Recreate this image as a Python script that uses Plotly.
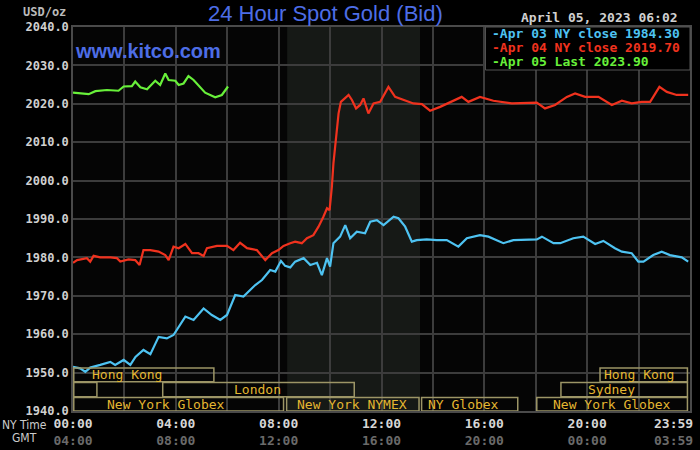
import plotly.graph_objects as go

# hours since NY midnight and bid prices
apr03_hours = [0.00, 0.28, 0.48, 0.67, 1.06, 1.45, 1.64, 1.97, 2.23, 2.43, 2.74, 3.01, 3.33, 3.65,
               3.91, 4.37, 4.69, 5.08, 5.40, 5.73, 5.99, 6.31, 6.63, 7.09, 7.35, 7.67, 7.87, 8.09,
               8.25, 8.45, 8.64, 8.97, 9.23, 9.49, 9.68, 9.88, 10.00, 10.13, 10.39, 10.59, 10.78,
               11.04, 11.36, 11.56, 11.82, 12.08, 12.47, 12.66, 12.92, 13.18, 13.37, 13.76, 14.15,
               14.54, 14.99, 15.32, 15.83, 16.16, 16.74, 17.13, 18.04, 18.24, 18.69, 18.95, 19.46,
               19.85, 20.31, 20.63, 21.08, 21.35, 21.73, 21.99, 22.19, 22.57, 22.90, 23.22, 23.68,
               23.93]
apr03_price = [1951.5, 1951.1, 1950.2, 1951.3, 1952.0, 1952.8, 1952.0, 1953.3, 1952.0, 1954.1,
               1955.9, 1954.8, 1959.3, 1958.9, 1959.8, 1964.6, 1963.7, 1966.7, 1965.0, 1963.7,
               1965.0, 1970.2, 1969.8, 1972.8, 1974.1, 1976.7, 1976.3, 1979.1, 1977.8, 1977.4,
               1978.9, 1979.8, 1978.0, 1978.6, 1975.4, 1979.8, 1977.6, 1983.7, 1985.4, 1988.4,
               1985.0, 1986.7, 1986.3, 1989.3, 1989.7, 1988.4, 1990.6, 1990.2, 1988.0, 1984.1,
               1984.5, 1984.7, 1984.5, 1984.5, 1982.8, 1985.0, 1985.8, 1985.4, 1983.7, 1984.5,
               1984.7, 1985.4, 1983.7, 1983.7, 1985.0, 1985.4, 1983.5, 1984.3, 1982.4, 1981.5,
               1981.1, 1978.9, 1978.9, 1980.6, 1981.5, 1980.6, 1980.0, 1978.9]

apr04_hours = [0.00, 0.16, 0.54, 0.67, 0.80, 1.06, 1.45, 1.71, 1.84, 2.16, 2.42, 2.59, 2.74, 3.01,
               3.33, 3.59, 3.72, 3.91, 4.11, 4.37, 4.63, 4.88, 5.08, 5.21, 5.60, 5.99, 6.24, 6.50,
               6.77, 7.15, 7.48, 7.74, 7.99, 8.19, 8.45, 8.64, 8.90, 9.10, 9.35, 9.55, 9.74, 9.88,
               9.98, 10.07, 10.13, 10.23, 10.33, 10.42, 10.59, 10.72, 10.85, 11.01, 11.17, 11.30,
               11.49, 11.69, 11.95, 12.27, 12.53, 12.85, 13.24, 13.57, 13.89, 14.28, 14.67, 15.12,
               15.38, 15.83, 16.35, 17.07, 18.04, 18.36, 18.75, 19.21, 19.53, 19.92, 20.44, 20.96,
               21.35, 21.73, 22.12, 22.45, 22.81, 23.10, 23.48, 23.93]
apr04_price = [1978.6, 1979.3, 1979.8, 1978.9, 1980.4, 1980.0, 1980.0, 1979.8, 1978.9, 1979.5,
               1979.3, 1978.0, 1981.9, 1981.9, 1981.5, 1980.6, 1979.3, 1982.8, 1982.4, 1983.5,
               1981.1, 1981.1, 1980.4, 1982.4, 1983.0, 1983.0, 1981.9, 1983.8, 1982.4, 1981.9,
               1979.3, 1981.1, 1981.9, 1983.0, 1983.7, 1984.1, 1983.7, 1985.0, 1985.8, 1988.0,
               1990.6, 1992.8, 1992.3, 1998.4, 2004.5, 2010.6, 2017.5, 2020.5, 2021.4, 2022.3,
               2021.0, 2018.8, 2019.7, 2021.4, 2017.5, 2020.1, 2020.5, 2024.4, 2021.8, 2021.1,
               2020.1, 2019.9, 2018.2, 2019.2, 2020.5, 2021.8, 2020.5, 2021.8, 2020.8, 2020.1,
               2020.3, 2018.8, 2019.7, 2021.8, 2022.7, 2021.8, 2021.8, 2019.7, 2020.8, 2020.1,
               2020.5, 2020.5, 2024.4, 2023.1, 2022.3, 2022.3]

apr05_hours = [0.00, 0.28, 0.61, 0.87, 1.32, 1.77, 1.97, 2.29, 2.42, 2.62, 2.88, 3.20, 3.39, 3.59,
               3.72, 3.98, 4.11, 4.30, 4.49, 4.69, 4.95, 5.14, 5.53, 5.79, 6.03]
apr05_price = [2022.9, 2022.7, 2022.5, 2023.3, 2023.6, 2023.4, 2024.5, 2024.6, 2025.8, 2024.3,
               2023.8, 2026.0, 2024.9, 2027.9, 2026.2, 2026.0, 2024.9, 2025.3, 2027.2, 2026.2,
               2024.3, 2022.9, 2021.7, 2022.3, 2024.5]

legend_labels = ["-Apr 03 NY close 1984.30", "-Apr 04 NY close 2019.70", "-Apr 05 Last 2023.90"]

tick_hours = [0, 2, 4, 6, 8, 10, 12, 14, 16, 18, 20, 22, 24]
ny_labels = ["00:00", "", "04:00", "", "08:00", "", "12:00", "", "16:00", "", "20:00", "", "23:59"]
gmt_labels = ["04:00", "", "08:00", "", "12:00", "", "16:00", "", "20:00", "", "00:00", "", "03:59"]

# trading sessions: name, start hour, end hour, row (0 = top), label centre hour
sessions = [
    ("Hong Kong", 0.0, 5.48, 0, 2.11),
    ("", 0.0, 0.93, 1, None),
    ("London", 3.46, 10.94, 1, 7.17),
    ("New York Globex", 0.0, 8.19, 2, 3.63),
    ("New York NYMEX", 8.28, 13.46, 2, 10.86),
    ("NY Globex", 13.53, 17.30, 2, 15.17),
    ("New York Globex", 18.01, 23.90, 2, 20.96),
    ("Sydney", 18.95, 23.90, 1, 20.96),
    ("Hong Kong", 20.47, 23.90, 0, 22.02),
]
row_top = [1951.2, 1947.4, 1943.5]
row_bottom = [1947.6, 1943.7, 1940.0]

BLUE = "#4ec3f2"
RED = "#f0321e"
GREEN = "#68f03a"
MONO = "DejaVu Sans Mono"
GMT_GREY = "#6a6a6a"

fig = go.Figure()
fig.add_trace(go.Scatter(x=apr03_hours, y=apr03_price, mode="lines",
                         line=dict(color=BLUE, width=2.2), showlegend=False))
fig.add_trace(go.Scatter(x=apr04_hours, y=apr04_price, mode="lines",
                         line=dict(color=RED, width=2.2), showlegend=False))
fig.add_trace(go.Scatter(x=apr05_hours, y=apr05_price, mode="lines",
                         line=dict(color=GREEN, width=2.2), showlegend=False))

# NYMEX pit hours shading
fig.add_vrect(x0=8.33, x1=13.5, fillcolor="#161916", line_width=0, layer="below")

for name, x0, x1, row, xc in sessions:
    fig.add_shape(type="rect", x0=x0 + 0.03, x1=x1, y0=row_bottom[row], y1=row_top[row],
                  line=dict(color="#9c9566", width=1.5), fillcolor="rgba(0,0,0,0)")
    if name:
        fig.add_annotation(x=xc, y=(row_top[row] + row_bottom[row]) / 2, text=name,
                           showarrow=False, font=dict(family=MONO, size=13, color="#e4b731"))

# legend box
fig.add_shape(type="rect", xref="paper", yref="paper", x0=0.6685, x1=1.0, y0=0.888, y1=1.0,
              line=dict(color="#555555", width=1), fillcolor="#000000")
for i, (label, col) in enumerate(zip(legend_labels, [BLUE, RED, GREEN])):
    fig.add_annotation(xref="paper", yref="paper", x=0.676, y=0.984 - i * 0.0375, text=label,
                       showarrow=False, xanchor="left", yanchor="middle",
                       font=dict(family=MONO, size=13, color=col, weight="bold"))

fig.add_annotation(xref="paper", yref="paper", x=0.0, y=0.938, text="www.kitco.com",
                   showarrow=False, xanchor="left", yanchor="middle",
                   font=dict(family="Liberation Sans", size=20, color="#4d6de6", weight="bold"))

fig.add_annotation(xref="paper", yref="paper", x=0.41, y=1.035, text="24 Hour Spot Gold (Bid)",
                   showarrow=False, xanchor="center", yanchor="middle",
                   font=dict(family="Liberation Sans", size=22, color="#4d6de6"))
fig.add_annotation(xref="paper", yref="paper", x=-0.085, y=1.04, text="USD/oz",
                   showarrow=False, xanchor="left", yanchor="middle",
                   font=dict(family=MONO, size=12, color="#bbbbbb", weight="bold"))
fig.add_annotation(xref="paper", yref="paper", x=0.984, y=1.025, text="April 05, 2023 06:02",
                   showarrow=False, xanchor="right", yanchor="middle",
                   font=dict(family=MONO, size=13, color="#d0d0d0", weight="bold"))
fig.add_annotation(xref="paper", yref="paper", x=-0.118, y=-0.036, text="NY Time",
                   showarrow=False, xanchor="left", yanchor="middle",
                   font=dict(family="DejaVu Sans Condensed", size=12, color="#cccccc"))
fig.add_annotation(xref="paper", yref="paper", x=-0.102, y=-0.071, text="GMT",
                   showarrow=False, xanchor="left", yanchor="middle",
                   font=dict(family="DejaVu Sans Condensed", size=12, color="#cccccc"))

# the last label sits left of the right edge, so it is drawn as an annotation
ticktext = []
for ny, gmt in zip(ny_labels, gmt_labels):
    if ny == "23:59":
        ticktext.append("")
        fig.add_annotation(x=24, xref="x", yref="paper", y=0, yanchor="top", xanchor="right",
                           xshift=5, yshift=-3, showarrow=False, align="right",
                           text=ny + "<br><span style='color:" + GMT_GREY + "'>" + gmt + "</span>",
                           font=dict(family=MONO, size=13, color="#d6d6d6", weight="bold"))
    elif ny:
        ticktext.append(ny + "<br><span style='color:" + GMT_GREY + "'>" + gmt + "</span>")
    else:
        ticktext.append("")

fig.update_xaxes(range=[0, 24], tickvals=tick_hours, ticktext=ticktext, showgrid=True,
                 gridcolor="#3c3c3c", gridwidth=1.5, zeroline=False, showline=True,
                 linecolor="#4a4a4a", linewidth=1.5, mirror=True, ticks="", ticklen=0,
                 tickfont=dict(family=MONO, size=13, color="#d6d6d6", weight="bold"))
fig.update_yaxes(range=[1940, 2040], dtick=10, tickformat=".1f", showgrid=True,
                 gridcolor="#3c3c3c", gridwidth=1.5, zeroline=False, showline=True,
                 linecolor="#4a4a4a", linewidth=1.5, mirror=True, ticks="",
                 tickfont=dict(family=MONO, size=12, color="#d0d0d0", weight="bold"))

fig.update_layout(width=700, height=450, paper_bgcolor="#000000", plot_bgcolor="#050505",
                  margin=dict(l=73, r=10, t=27, b=39, autoexpand=False), showlegend=False)

# page body has a default 8px margin; drop it so the chart fills the window
fig.write_html("out.html", config={"displayModeBar": False},
               post_script="document.body.style.margin='0';"
                           "document.body.style.background='#000';")
